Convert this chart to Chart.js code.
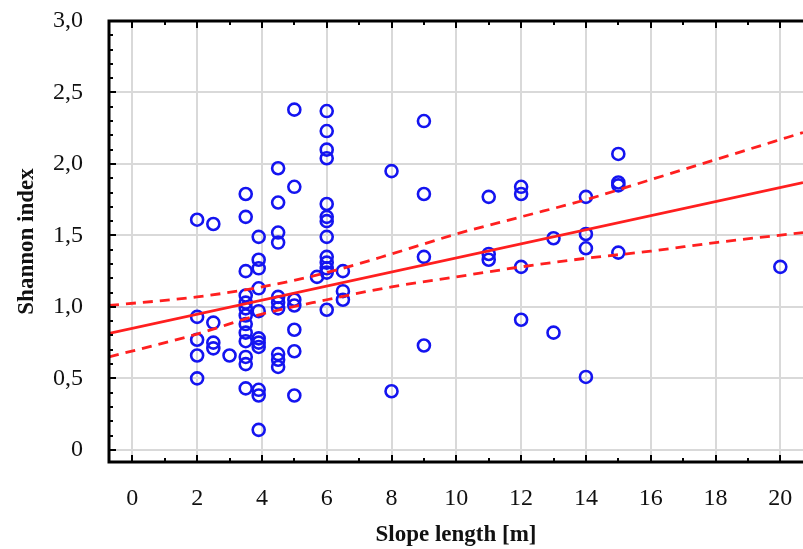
<!DOCTYPE html>
<html>
<head>
<meta charset="utf-8">
<script src="https://cdn.jsdelivr.net/npm/chart.js@4.4.1/dist/chart.umd.min.js"></script>
<style>
  html, body { margin: 0; padding: 0; background: #ffffff; }
  #wrap { width: 803px; height: 549px; }
</style>
</head>
<body>
<div id="wrap"><canvas id="c" width="803" height="549"></canvas></div>
<script>
// ---- Data ----
const pointX = [
  2, 2, 2, 2, 2,
  2.5, 2.5, 2.5, 2.5,
  3,
  3.5, 3.5, 3.5, 3.5, 3.5, 3.5, 3.5, 3.5, 3.5, 3.5, 3.5, 3.5, 3.5,
  3.9, 3.9, 3.9, 3.9, 3.9, 3.9, 3.9, 3.9, 3.9, 3.9, 3.9,
  4.5, 4.5, 4.5, 4.5, 4.5, 4.5, 4.5, 4.5, 4.5, 4.5,
  5, 5, 5, 5, 5, 5, 5,
  5.7,
  6, 6, 6, 6, 6, 6, 6, 6, 6, 6, 6, 6, 6,
  6.5, 6.5, 6.5,
  8, 8,
  9, 9, 9, 9,
  11, 11, 11,
  12, 12, 12, 12,
  13, 13,
  14, 14, 14, 14,
  15, 15, 15, 15,
  20
];
const pointY = [
  1.61, 0.93, 0.77, 0.66, 0.50,
  1.58, 0.89, 0.75, 0.71,
  0.66,
  1.79, 1.63, 1.25, 1.08, 1.03, 0.99, 0.94, 0.88, 0.82, 0.76, 0.65, 0.60, 0.43,
  1.49, 1.33, 1.27, 1.13, 0.97, 0.78, 0.75, 0.72, 0.42, 0.38, 0.14,
  1.97, 1.73, 1.52, 1.45, 1.07, 1.03, 0.99, 0.67, 0.63, 0.58,
  2.38, 1.84, 1.05, 1.01, 0.84, 0.69, 0.38,
  1.21,
  2.37, 2.23, 2.10, 2.04, 1.72, 1.63, 1.60, 1.49, 1.35, 1.31, 1.27, 1.24, 0.98,
  1.25, 1.11, 1.05,
  1.95, 0.41,
  2.30, 1.79, 1.35, 0.73,
  1.77, 1.37, 1.33,
  1.84, 1.79, 1.28, 0.91,
  1.48, 0.82,
  1.77, 1.51, 1.41, 0.51,
  2.07, 1.87, 1.85, 1.38,
  1.28
];
// regression line (ends read at the plot edges)
const fitX = [-0.72, 20.7];
const fitY = [0.815, 1.87];
// confidence band read at several x positions
const bandX  = [-0.72, 2, 4, 6, 8, 10, 12, 14, 16, 18, 20.7];
const upperY = [1.01, 1.07, 1.14, 1.24, 1.37, 1.51, 1.63, 1.75, 1.89, 2.03, 2.22];
const lowerY = [0.65, 0.81, 0.95, 1.05, 1.14, 1.21, 1.28, 1.34, 1.39, 1.45, 1.52];
// axis ticks
const xTicks = [0, 2, 4, 6, 8, 10, 12, 14, 16, 18, 20];
const yTicks = [0, 0.5, 1.0, 1.5, 2.0, 2.5, 3.0];
const xTitle = 'Slope length [m]';
const yTitle = 'Shannon index';

// ---- build chart ----
const toXY = (xs, ys) => xs.map((v, i) => ({ x: v, y: ys[i] }));
const RED = '#ff1f1f';
const BLUE = '#1414f0';
const SERIF = "'Liberation Serif', 'Times New Roman', 'DejaVu Serif', serif";

const frameTicks = {
  id: 'frameTicks',
  afterDraw(chart) {
    const { ctx, chartArea } = chart;
    const { left, top, right, bottom } = chartArea;
    const xs = chart.scales.x, ys = chart.scales.y;
    ctx.save();
    ctx.strokeStyle = '#000';
    ctx.lineWidth = 3;
    ctx.beginPath();
    ctx.moveTo(right, top);
    ctx.lineTo(left, top);
    ctx.lineTo(left, bottom);
    ctx.lineTo(right, bottom);
    ctx.stroke();
    ctx.lineWidth = 2;
    ctx.beginPath();
    for (let v = Math.ceil(xs.min); v <= xs.max; v += 1) {
      const px = Math.round(xs.getPixelForValue(v));
      const len = (v % 2 === 0) ? 7 : 4;
      ctx.moveTo(px, bottom);
      ctx.lineTo(px, bottom - len);
      ctx.moveTo(px, top);
      ctx.lineTo(px, top + len);
    }
    for (let k = 0; k <= 30; k++) {
      const py = Math.round(ys.getPixelForValue(k / 10));
      const len = (k % 5 === 0) ? 7 : 4;
      ctx.moveTo(left, py);
      ctx.lineTo(left + len, py);
    }
    ctx.stroke();
    ctx.restore();
  }
};

new Chart(document.getElementById('c'), {
  type: 'scatter',
  data: {
    datasets: [
      {
        label: 'fit',
        data: toXY(fitX, fitY),
        showLine: true,
        borderColor: RED,
        borderWidth: 2.8,
        pointRadius: 0,
        fill: false
      },
      {
        label: 'upper',
        data: toXY(bandX, upperY),
        showLine: true,
        borderColor: RED,
        borderWidth: 2.8,
        borderDash: [10, 7],
        cubicInterpolationMode: 'monotone',
        pointRadius: 0,
        fill: false
      },
      {
        label: 'lower',
        data: toXY(bandX, lowerY),
        showLine: true,
        borderColor: RED,
        borderWidth: 2.8,
        borderDash: [10, 7],
        cubicInterpolationMode: 'monotone',
        pointRadius: 0,
        fill: false
      },
      {
        label: 'points',
        data: toXY(pointX, pointY),
        showLine: false,
        pointStyle: 'circle',
        pointRadius: 6,
        pointBorderWidth: 2.6,
        pointBorderColor: BLUE,
        pointBackgroundColor: 'rgba(255,255,255,0)'
      }
    ]
  },
  options: {
    responsive: false,
    animation: false,
    layout: { autoPadding: false, padding: { left: 0, right: 0, top: 21, bottom: 0 } },
    plugins: {
      legend: { display: false },
      tooltip: { enabled: false }
    },
    scales: {
      x: {
        type: 'linear',
        min: -0.72,
        max: 20.7,
        afterBuildTicks: (s) => { s.ticks = xTicks.map(v => ({ value: v })); },
        afterFit: (s) => { s.height = 87; s.paddingLeft = 0; s.paddingRight = 0; },
        grid: { color: '#d9d9d9', lineWidth: 2, drawTicks: false },
        border: { display: false },
        ticks: {
          padding: 22,
          color: '#111',
          font: { family: SERIF, size: 24 },
          maxRotation: 0,
          autoSkip: false,
          callback: (v) => String(v)
        },
        title: {
          display: true,
          text: xTitle,
          color: '#111',
          font: { family: SERIF, size: 23, weight: 'bold' },
          padding: { top: 0, bottom: 0 }
        }
      },
      y: {
        type: 'linear',
        min: -0.085,
        max: 3.0,
        afterBuildTicks: (s) => { s.ticks = yTicks.map(v => ({ value: v })); },
        afterFit: (s) => { s.width = 109; s.paddingTop = 0; s.paddingBottom = 0; },
        grid: { color: '#d9d9d9', lineWidth: 2, drawTicks: false },
        border: { display: false },
        ticks: {
          padding: 26,
          color: '#111',
          font: { family: SERIF, size: 24 },
          autoSkip: false,
          callback: (v) => (v === 0 ? '0' : Number(v).toFixed(1).replace('.', ','))
        },
        title: {
          display: true,
          text: yTitle,
          color: '#111',
          font: { family: SERIF, size: 23, weight: 'bold' },
          padding: { top: 13, bottom: 0 }
        }
      }
    }
  },
  plugins: [frameTicks]
});
</script>
</body>
</html>
